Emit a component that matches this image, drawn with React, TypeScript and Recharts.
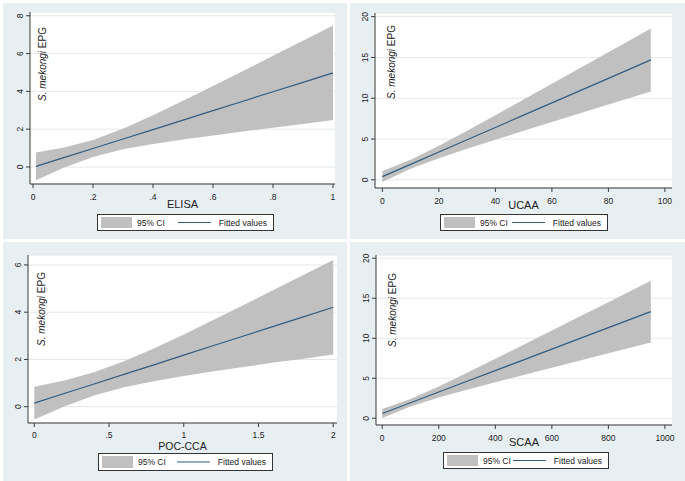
import React from 'react';
import { ComposedChart, Area, Line, XAxis, YAxis, CartesianGrid } from 'recharts';

// ---- Data ----
const elisaX = [0.01, 0.1, 0.2, 0.3, 0.4, 0.5, 0.6, 0.7, 0.8, 0.9, 1.0];
const elisaFit = [0.03, 0.48, 0.98, 1.48, 1.98, 2.48, 2.98, 3.48, 3.98, 4.48, 4.98];
const elisaLo = [-0.7, -0.06, 0.53, 0.94, 1.22, 1.46, 1.67, 1.88, 2.08, 2.28, 2.48];
const elisaHi = [0.76, 1.02, 1.43, 2.02, 2.74, 3.5, 4.29, 5.08, 5.88, 6.68, 7.48];

const ucaaX = [0, 10, 20, 30, 40, 50, 60, 70, 80, 95];
const ucaaFit = [0.4, 1.9, 3.41, 4.92, 6.42, 7.93, 9.43, 10.94, 12.44, 14.7];
const ucaaLo = [-0.25, 1.35, 2.65, 3.81, 4.91, 6.01, 7.08, 8.16, 9.23, 10.84];
const ucaaHi = [1.05, 2.46, 4.17, 6.03, 7.93, 9.85, 11.78, 13.72, 15.65, 18.56];

const pocX = [0, 0.2, 0.4, 0.6, 0.8, 1.0, 1.2, 1.4, 1.6, 1.8, 2.0];
const pocFit = [0.15, 0.56, 0.96, 1.37, 1.77, 2.18, 2.59, 2.99, 3.4, 3.8, 4.21];
const pocLo = [-0.54, 0.01, 0.47, 0.82, 1.08, 1.3, 1.5, 1.68, 1.87, 2.03, 2.21];
const pocHi = [0.84, 1.11, 1.46, 1.92, 2.46, 3.06, 3.68, 4.3, 4.94, 5.57, 6.21];

const scaaX = [0, 100, 200, 300, 400, 500, 600, 700, 800, 950];
const scaaFit = [0.6, 1.94, 3.28, 4.62, 5.96, 7.3, 8.64, 9.98, 11.32, 13.33];
const scaaLo = [0.03, 1.48, 2.59, 3.56, 4.49, 5.4, 6.31, 7.22, 8.13, 9.48];
const scaaHi = [1.17, 2.4, 3.97, 5.69, 7.44, 9.2, 10.97, 12.74, 14.51, 17.18];

const elisaXTicks = [0, 0.2, 0.4, 0.6, 0.8, 1];
const elisaXLabels = ['0', '.2', '.4', '.6', '.8', '1'];
const elisaYTicks = [0, 2, 4, 6, 8];
const ucaaXTicks = [0, 20, 40, 60, 80, 100];
const ucaaXLabels = ['0', '20', '40', '60', '80', '100'];
const ucaaYTicks = [0, 5, 10, 15, 20];
const pocXTicks = [0, 0.5, 1, 1.5, 2];
const pocXLabels = ['0', '.5', '1', '1.5', '2'];
const pocYTicks = [0, 2, 4, 6];
const scaaXTicks = [0, 200, 400, 600, 800, 1000];
const scaaXLabels = ['0', '200', '400', '600', '800', '1000'];
const scaaYTicks = [0, 5, 10, 15, 20];

const yTitle = 'S. mekongi';
const yTitleRest = ' EPG';
const legendCI = '95% CI';
const legendFit = 'Fitted values';

// ---- Styles ----
const FONT = '"Liberation Sans", Arial, sans-serif';
const BAND = '#c0c0c0';
const FIT = '#335c7e';
const GRID = '#e1e8ec';
const AXIS = '#3a3a3a';
const PANEL_BG = '#e8eff2';
const TEXT = '#222';

const panels = [
  {
    title: 'ELISA', x: elisaX, fit: elisaFit, lo: elisaLo, hi: elisaHi,
    xTicks: elisaXTicks, xLabels: elisaXLabels, yTicks: elisaYTicks,
    xDomain: [-0.01, 1.0067], yDomain: [-0.9, 8.2],
    bg: [3, 3, 344, 236], plot: [30, 12, 335, 184],
    yLabel: [46, 27], xTitleY: 208, titleSize: 11, tickDy: 10, legend: [97, 214, 176, 16],
  },
  {
    title: 'UCAA', x: ucaaX, fit: ucaaFit, lo: ucaaLo, hi: ucaaHi,
    xTicks: ucaaXTicks, xLabels: ucaaXLabels, yTicks: ucaaYTicks,
    xDomain: [-2.6, 102.5], yDomain: [-1, 20.45],
    bg: [350, 3, 335, 236], plot: [375, 13, 672, 188],
    yLabel: [395, 25], xTitleY: 209, titleSize: 11, tickDy: 10, legend: [440, 214, 167, 16],
  },
  {
    title: 'POC-CCA', x: pocX, fit: pocFit, lo: pocLo, hi: pocHi,
    xTicks: pocXTicks, xLabels: pocXLabels, yTicks: pocYTicks,
    xDomain: [-0.042, 2.025], yDomain: [-0.69, 6.42],
    bg: [3, 242, 344, 239], plot: [28, 255, 337, 423],
    yLabel: [45, 272], xTitleY: 449.5, titleSize: 10.5, tickDy: 8.5, legend: [98, 453, 174, 17],
  },
  {
    title: 'SCAA', x: scaaX, fit: scaaFit, lo: scaaLo, hi: scaaHi,
    xTicks: scaaXTicks, xLabels: scaaXLabels, yTicks: scaaYTicks,
    xDomain: [-22, 1025], yDomain: [-0.84, 20.4],
    bg: [350, 242, 335, 239], plot: [376, 255, 672, 425],
    yLabel: [396, 273], xTitleY: 446, titleSize: 11, tickDy: 10, legend: [443, 452, 165, 16],
  },
];

function Panel({ cfg }: { cfg: any }) {
  const [L, T, R, B] = cfg.plot;
  const yw = 1, xh = 1;
  const ml = 29, mt = 8, mr = 8, mb = 25;
  const w = R - L + ml + yw + mr;
  const h = B - T + mt + mb + xh;
  const data = cfg.x.map((x: number, i: number) => ({
    x,
    fit: cfg.fit[i],
    band: [cfg.lo[i], cfg.hi[i]],
  }));
  const xTick = (props: any) => {
    const { x, y, payload, index } = props;
    const idx = cfg.xTicks.indexOf(payload.value);
    const label = idx >= 0 ? cfg.xLabels[idx] : String(payload.value);
    return (
      <text key={`xt-${index}`} x={x} y={y} dy={cfg.tickDy} textAnchor="middle" fontSize={8.5} fill={TEXT} fontFamily={FONT}>
        {label}
      </text>
    );
  };
  const yTick = (props: any) => {
    const { x, y, payload, index } = props;
    const tx = x - 1;
    return (
      <text key={`yt-${index}`} x={tx} y={y} transform={`rotate(-90 ${tx} ${y})`} textAnchor="middle" fontSize={8.5} fill={TEXT} fontFamily={FONT}>
        {String(payload.value)}
      </text>
    );
  };
  return (
    <div style={{ position: 'absolute', left: L - ml - yw, top: T - mt, width: w, height: h }}>
      <ComposedChart width={w} height={h} data={data} margin={{ left: ml, top: mt, right: mr, bottom: mb }}>
        <CartesianGrid vertical={false} stroke={GRID} fill="#ffffff" fillOpacity={1} />
        <XAxis
          type="number"
          dataKey="x"
          domain={cfg.xDomain}
          ticks={cfg.xTicks}
          allowDataOverflow
          interval={0}
          height={xh}
          tickSize={4}
          tickMargin={2}
          stroke={AXIS}
          tickLine={{ stroke: AXIS }}
          axisLine={{ stroke: AXIS }}
          tick={xTick}
        />
        <YAxis
          type="number"
          domain={cfg.yDomain}
          ticks={cfg.yTicks}
          allowDataOverflow
          interval={0}
          width={yw}
          tickSize={4}
          tickMargin={2}
          stroke={AXIS}
          tickLine={{ stroke: AXIS }}
          axisLine={{ stroke: AXIS }}
          tick={yTick}
        />
        <Area
          type="linear"
          dataKey="band"
          stroke="none"
          fill={BAND}
          fillOpacity={1}
          isAnimationActive={false}
          activeDot={false}
        />
        <Line
          type="linear"
          dataKey="fit"
          stroke={FIT}
          strokeWidth={1.2}
          dot={false}
          activeDot={false}
          isAnimationActive={false}
        />
      </ComposedChart>
    </div>
  );
}

function Overlay() {
  return (
    <svg width={685} height={481} style={{ position: 'absolute', left: 0, top: 0, pointerEvents: 'none' }}>
      {panels.map((p, i) => {
        const [L, , R] = p.plot;
        const [lx, ly, lw, lh] = p.legend;
        const midY = ly + lh / 2;
        return (
          <g key={i} fontFamily={FONT}>
            <text
              transform={`translate(${p.yLabel[0]},${p.yLabel[1]}) rotate(-90)`}
              textAnchor="end"
              fontSize={10}
              fill={TEXT}
            >
              <tspan fontStyle="italic">{yTitle}</tspan>
              <tspan>{yTitleRest}</tspan>
            </text>
            <text x={(L + R) / 2} y={p.xTitleY} textAnchor="middle" fontSize={p.titleSize} fill={TEXT}>
              {p.title}
            </text>
            <rect x={lx + 0.5} y={ly + 0.5} width={lw} height={lh} fill="#ffffff" stroke="#333" strokeWidth={1} />
            <rect x={lx + 4} y={ly + 3} width={31} height={lh - 5} fill={BAND} />
            <text x={lx + 40} y={midY + 3.5} fontSize={8.5} fill={TEXT}>
              {legendCI}
            </text>
            <line x1={lx + lw - 95} x2={lx + lw - 62} y1={midY + 0.5} y2={midY + 0.5} stroke={FIT} strokeWidth={1.2} />
            <text x={lx + lw - 6} y={midY + 3.5} fontSize={8.5} fill={TEXT} textAnchor="end">
              {legendFit}
            </text>
          </g>
        );
      })}
    </svg>
  );
}

export default function App() {
  return (
    <div style={{ position: 'absolute', left: 0, top: 0, width: 685, height: 481, background: '#ffffff', overflow: 'hidden' }}>
      {panels.map((p, i) => (
        <div
          key={`bg-${i}`}
          style={{ position: 'absolute', left: p.bg[0], top: p.bg[1], width: p.bg[2], height: p.bg[3], background: PANEL_BG }}
        />
      ))}
      {panels.map((p, i) => (
        <Panel key={`p-${i}`} cfg={p} />
      ))}
      <Overlay />
    </div>
  );
}
